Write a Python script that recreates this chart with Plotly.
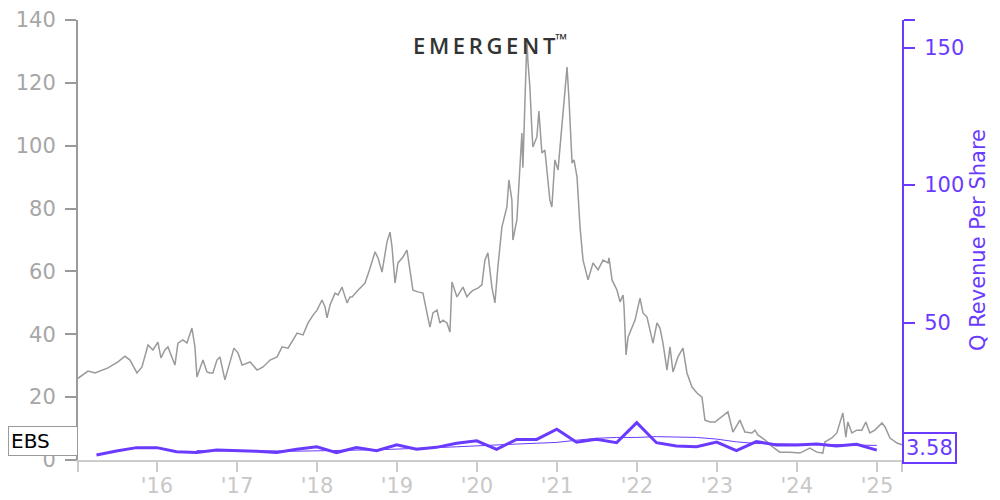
import pandas as pd
import plotly.graph_objects as go

# ---- data ----
price_t = [2015.0125, 2015.1375, 2015.225, 2015.3875, 2015.5125, 2015.6, 2015.6625, 2015.75, 2015.8125, 2015.8875,
           2015.95, 2016.0125, 2016.05, 2016.1, 2016.1375, 2016.1875, 2016.225, 2016.2625, 2016.325, 2016.375,
           2016.4375, 2016.475, 2016.5, 2016.575, 2016.625, 2016.6625, 2016.7, 2016.75, 2016.7875, 2016.85,
           2016.9125, 2016.9625, 2017.0125, 2017.0625, 2017.1625, 2017.25, 2017.325, 2017.4125, 2017.5, 2017.5625,
           2017.6375, 2017.75, 2017.825, 2017.8875, 2017.95, 2018.0, 2018.0625, 2018.1, 2018.125, 2018.1625,
           2018.225, 2018.2625, 2018.3125, 2018.375, 2018.4125, 2018.4375, 2018.5125, 2018.6, 2018.6625, 2018.725,
           2018.7625, 2018.8125, 2018.875, 2018.9125, 2018.9375, 2018.975, 2019.0125, 2019.075, 2019.125, 2019.1625,
           2019.2, 2019.2625, 2019.325, 2019.375, 2019.4125, 2019.45, 2019.5, 2019.5375, 2019.575, 2019.625,
           2019.6625, 2019.6875, 2019.75, 2019.825, 2019.875, 2019.9125, 2019.95, 2020.0125, 2020.0625, 2020.1,
           2020.1375, 2020.1875, 2020.225, 2020.2625, 2020.3125, 2020.375, 2020.4, 2020.4375, 2020.45, 2020.5,
           2020.5375, 2020.5625, 2020.575, 2020.6, 2020.625, 2020.6375, 2020.6625, 2020.6875, 2020.7, 2020.75,
           2020.775, 2020.8125, 2020.85, 2020.8875, 2020.9125, 2020.9375, 2020.95, 2020.975, 2021.0125, 2021.0625,
           2021.1, 2021.125, 2021.15, 2021.1875, 2021.2125, 2021.25, 2021.2875, 2021.325, 2021.3875, 2021.45,
           2021.5125, 2021.575, 2021.6375, 2021.65, 2021.6875, 2021.75, 2021.7875, 2021.825, 2021.8375, 2021.8625,
           2021.8875, 2021.9375, 2021.975, 2022.0375, 2022.075, 2022.125, 2022.1625, 2022.2, 2022.25, 2022.2875,
           2022.325, 2022.375, 2022.4125, 2022.45, 2022.5125, 2022.575, 2022.625, 2022.6875, 2022.75, 2022.8125,
           2022.85, 2022.9125, 2022.975, 2023.0625, 2023.1375, 2023.2, 2023.2875, 2023.35, 2023.4375, 2023.475,
           2023.5125, 2023.6, 2023.7, 2023.7875, 2023.9125, 2024.0375, 2024.1625, 2024.25, 2024.325, 2024.35,
           2024.4375, 2024.5, 2024.5375, 2024.575, 2024.6125, 2024.6375, 2024.6875, 2024.75, 2024.8125, 2024.8625,
           2024.9125, 2024.975, 2025.0625, 2025.1, 2025.1625, 2025.25, 2025.3125]
price_v = [26.0, 28.3, 27.7, 29.3, 31.2, 33.0, 31.8, 27.7, 29.6, 36.6,
           35.0, 37.5, 32.5, 35.0, 36.0, 32.8, 30.2, 37.2, 38.2, 37.2,
           42.0, 36.0, 26.4, 31.8, 28.0, 27.7, 27.7, 31.8, 32.8, 25.5,
           30.9, 35.6, 34.0, 30.2, 31.2, 28.6, 29.6, 31.8, 32.8, 36.0,
           35.6, 40.4, 39.8, 43.6, 46.1, 47.7, 50.9, 48.7, 45.2, 49.3,
           53.1, 52.5, 55.0, 50.0, 51.9, 51.9, 54.0, 56.3, 61.0, 66.2,
           64.3, 59.8, 69.4, 72.5, 67.8, 56.3, 62.7, 64.6, 66.8, 61.0,
           54.0, 53.5, 53.1, 46.8, 42.3, 46.8, 47.7, 43.6, 44.5, 43.6,
           40.7, 56.6, 51.9, 55.0, 51.9, 53.1, 54.0, 54.7, 55.7, 63.6,
           65.9, 55.0, 50.0, 61.4, 74.1, 80.5, 89.1, 82.7, 70.0, 76.4,
           93.2, 104.0, 93.0, 115.5, 134.0, 127.0, 118.7, 105.0, 99.6, 102.8,
           111.0, 97.7, 98.6, 89.1, 82.7, 80.5, 86.9, 95.5, 92.3, 108.0,
           120.0, 125.0, 114.5, 94.5, 95.5, 90.0, 74.0, 63.6, 57.3, 62.7,
           60.5, 63.6, 62.7, 64.3, 57.3, 54.0, 50.3, 52.5, 48.7, 33.4,
           39.1, 42.3, 44.5, 51.5, 46.8, 45.5, 41.4, 37.2, 43.6, 42.0,
           37.2, 28.6, 36.0, 28.0, 32.8, 35.6, 27.7, 23.2, 21.3, 20.0,
           12.7, 12.1, 12.1, 13.7, 15.3, 8.9, 12.7, 8.9, 8.6, 9.5,
           8.0, 6.4, 4.1, 2.5, 2.5, 2.2, 3.8, 2.5, 2.2, 5.7,
           7.0, 8.6, 11.8, 15.0, 7.3, 12.1, 8.6, 9.5, 9.5, 12.1,
           8.6, 9.5, 11.8, 10.5, 7.0, 5.4, 4.8]

quarters = ["2015-03-31", "2015-06-30", "2015-09-30", "2015-12-31",
            "2016-03-31", "2016-06-30", "2016-09-30", "2016-12-31",
            "2017-03-31", "2017-06-30", "2017-09-30", "2017-12-31",
            "2018-03-31", "2018-06-30", "2018-09-30", "2018-12-31",
            "2019-03-31", "2019-06-30", "2019-09-30", "2019-12-31",
            "2020-03-31", "2020-06-30", "2020-09-30", "2020-12-31",
            "2021-03-31", "2021-06-30", "2021-09-30", "2021-12-31",
            "2022-03-31", "2022-06-30", "2022-09-30", "2022-12-31",
            "2023-03-31", "2023-06-30", "2023-09-30", "2023-12-31",
            "2024-03-31", "2024-06-30", "2024-09-30", "2024-12-31"]
rev_q = [1.8, 3.3, 4.5, 4.5,
         3.0, 2.7, 3.6, 3.5,
         3.2, 2.7, 3.9, 4.8,
         2.7, 4.5, 3.4, 5.5,
         3.9, 4.6, 6.1, 7.0,
         3.9, 7.5, 7.5, 11.2,
         6.5, 7.5, 6.3, 13.6,
         6.3, 5.1, 4.8, 6.5,
         3.4, 6.7, 5.5, 5.5,
         5.8, 5.1, 5.7, 3.58]
rev_avg = [3.4, 3.4, 3.5, 3.5, 3.3, 3.2, 3.4, 3.6, 3.6, 3.7,
           3.9, 4.3, 4.5, 4.8, 5.2, 5.6, 5.8, 6.1, 6.4, 7.2,
           7.9, 8.2, 8.2, 8.5, 8.4, 8.2, 7.6, 6.6, 6.0, 5.8,
           5.7, 5.6, 5.6, 5.5, 5.3, 5.1]
avg_quarters = quarters[5:]

x_tick_labels = ["'16", "'17", "'18", "'19", "'20", "'21", "'22", "'23", "'24", "'25"]
x_tick_dates = ["2016-01-01", "2017-01-01", "2018-01-01", "2019-01-01", "2020-01-01",
                "2021-01-01", "2022-01-01", "2023-01-01", "2024-01-01", "2025-01-01"]
ticker = "EBS"


def yr2date(y):
    year = int(y)
    return pd.Timestamp(year, 1, 1) + pd.Timedelta(days=(y - year) * 365.25)


price_dates = [yr2date(t) for t in price_t]
x_start, x_end = price_dates[0], price_dates[-1]

PURPLE = "#6a3bff"
GRAY = "#9a9a9a"
FONT = "DejaVu Sans"

# page body has an 8px margin, so the figure is sized/offset to compensate
ML, MR, MT, MB = 70, 98, 12, 40
PLOT_W = 992 - ML - MR

fig = go.Figure()
fig.add_trace(go.Scatter(x=price_dates, y=price_v, mode="lines",
                         line=dict(color=GRAY, width=1.5), yaxis="y", showlegend=False))
fig.add_trace(go.Scatter(x=avg_quarters, y=rev_avg, mode="lines",
                         line=dict(color=PURPLE, width=1), yaxis="y2", showlegend=False))
fig.add_trace(go.Scatter(x=quarters, y=rev_q, mode="lines",
                         line=dict(color=PURPLE, width=3), yaxis="y2", showlegend=False))

fig.update_layout(
    width=992, height=492,
    margin=dict(l=ML, r=MR, t=MT, b=MB, autoexpand=False),
    paper_bgcolor="white", plot_bgcolor="white",
    font=dict(family=FONT, size=21),
    xaxis=dict(
        range=[x_start, x_end], showgrid=False, zeroline=False, automargin=False,
        showline=True, linecolor="#cccccc", linewidth=2,
        ticks="outside", ticklen=10, tickcolor="#cccccc", tickwidth=2,
        tickvals=[x_start] + x_tick_dates + [x_end],
        ticktext=[""] + x_tick_labels + [""],
        ticklabelstandoff=-4,
        tickfont=dict(color="#c8c8c8", size=21, family=FONT),
    ),
    yaxis=dict(
        range=[0, 140], showgrid=False, zeroline=False, automargin=False,
        showline=True, linecolor=GRAY, linewidth=2,
        ticks="outside", ticklen=11, tickcolor=GRAY, tickwidth=2,
        tickvals=[0, 20, 40, 60, 80, 100, 120, 140],
        ticklabelstandoff=5,
        tickfont=dict(color="#a6a6a6", size=21, family=FONT),
    ),
    yaxis2=dict(
        range=[0, 160], overlaying="y", side="right", anchor="x", automargin=False,
        showgrid=False, zeroline=False,
        showline=True, linecolor=PURPLE, linewidth=2,
        ticks="outside", ticklen=11, tickcolor=PURPLE, tickwidth=2,
        tickvals=[0, 50, 100, 150, 160], ticktext=["", "50", "100", "150", ""],
        ticklabelstandoff=5,
        tickfont=dict(color=PURPLE, size=21, family=FONT),
        title=dict(text="Q Revenue Per Share", font=dict(color=PURPLE, size=21, family=FONT), standoff=7),
    ),
    annotations=[
        dict(text="E\u2009M\u2009E\u2009R\u2009G\u2009E\u2009N\u2009T<sup>™</sup>", xref="paper", yref="paper",
             x=0.5, y=0.945, xanchor="center", yanchor="middle", showarrow=False,
             font=dict(family="Open Sans", size=22, color="#333333", weight=600)),
        dict(text=ticker, xref="paper", yref="y", x=-ML / PLOT_W, y=price_v[-1], yshift=4,
             xanchor="left", yanchor="middle", showarrow=False, align="left",
             width=64, bgcolor="white", bordercolor=GRAY, borderwidth=1, borderpad=2,
             font=dict(family=FONT, size=20, color="black")),
        dict(text=f"{rev_q[-1]:.2f}", xref="paper", yref="y2", x=1.0, y=rev_q[-1], yshift=2,
             xanchor="left", yanchor="middle", showarrow=False,
             bgcolor="white", bordercolor=PURPLE, borderwidth=2, borderpad=2,
             font=dict(family=FONT, size=21, color=PURPLE)),
    ],
)

fig.write_html("out.html")
